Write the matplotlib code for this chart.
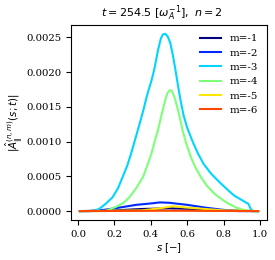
import matplotlib
matplotlib.use("Agg")
import matplotlib.pyplot as plt
from matplotlib.ticker import FormatStrFormatter

plt.rcParams['font.family'] = ['DejaVu Serif']
plt.rcParams['mathtext.fontset'] = 'dejavusans'

labels = ["m=-1", "m=-2", "m=-3", "m=-4", "m=-5", "m=-6"]

s_m1 = [0.01, 0.2, 0.35, 0.5, 0.65, 0.8, 0.99]
v_m1 = [0, 0.00001, 0.00003, 0.00004, 0.00003, 0.00001, 0]

s_m2 = [0.01, 0.06, 0.15, 0.25, 0.32, 0.4, 0.45, 0.5, 0.55, 0.6, 0.7, 0.79, 0.88, 0.99]
v_m2 = [0, 0, 0.00002, 0.00006, 0.00009, 0.00011, 0.000125, 0.00012, 0.000105,
        0.00009, 0.00005, 0.00002, 0, 0]

s_m3 = [0.01, 0.08, 0.115, 0.15, 0.19, 0.22, 0.245, 0.27, 0.292, 0.315, 0.339, 0.36,
        0.376, 0.39, 0.404, 0.42, 0.44, 0.455, 0.466, 0.48, 0.493, 0.507, 0.52, 0.535,
        0.55, 0.563, 0.58, 0.6, 0.63, 0.657, 0.69, 0.731, 0.78, 0.825, 0.86, 0.9,
        0.925, 0.935, 0.95, 0.96, 0.99]
v_m3 = [0, 0, 0.00003, 0.0001, 0.0002, 0.00033, 0.00049, 0.00065, 0.00083, 0.00104,
        0.00126, 0.00146, 0.00163, 0.00176, 0.00188, 0.00205, 0.00232, 0.00248, 0.00254,
        0.00255, 0.00251, 0.00242, 0.00226, 0.00204, 0.0018, 0.0016, 0.00138, 0.0012,
        0.001, 0.00084, 0.00068, 0.00054, 0.00041, 0.0003, 0.00022, 0.00016, 0.00012,
        0.00011, 0.00003, 0.0, 0.0]

s_m4 = [0.01, 0.15, 0.208, 0.25, 0.283, 0.32, 0.357, 0.38, 0.404, 0.42, 0.44, 0.455,
        0.47, 0.482, 0.492, 0.505, 0.516, 0.53, 0.545, 0.56, 0.573, 0.595, 0.62, 0.645,
        0.675, 0.71, 0.75, 0.79, 0.825, 0.87, 0.918, 0.95, 0.99]
v_m4 = [0, 0, 0.00006, 0.00012, 0.0002, 0.00033, 0.00049, 0.00065, 0.00083, 0.00099,
        0.00117, 0.00134, 0.0015, 0.00162, 0.0017, 0.00174, 0.00173, 0.00164, 0.0015,
        0.00134, 0.00118, 0.00097, 0.00078, 0.00063, 0.00049, 0.00036, 0.00025, 0.00017,
        0.00011, 0.00005, 0.00001, 0, 0]

s_m5 = [0.01, 0.35, 0.45, 0.52, 0.6, 0.7, 0.8, 0.99]
v_m5 = [0, 0.00001, 0.00004, 0.00007, 0.00005, 0.00003, 0.00001, 0]

s_m6 = [0.01, 0.5, 0.99]
v_m6 = [0, 0.000005, 0]

series = [(s_m1, v_m1), (s_m2, v_m2), (s_m3, v_m3), (s_m4, v_m4), (s_m5, v_m5), (s_m6, v_m6)]
cmap = plt.get_cmap('jet')

fig = plt.figure(figsize=(2.75, 2.6), dpi=100)
ax = fig.add_axes([0.258, 0.154, 0.713, 0.75])
for i, ((s, v), lab) in enumerate(zip(series, labels)):
    ax.plot(s, v, color=cmap(i / 6), lw=1.5, label=lab)

ax.yaxis.set_major_formatter(FormatStrFormatter('%.4f'))
ax.set_xticks([0.0, 0.2, 0.4, 0.6, 0.8, 1.0])
ax.tick_params(labelsize=7.3)
ax.set_xlabel(r'$s\ [-]$', fontsize=7.3, labelpad=2)
ax.set_ylabel(r'$|\hat{A}_{\|}^{(n,m)}(s;t)|$', fontsize=7.4, labelpad=1)
ax.set_title(r'$t = 254.5\ [\omega_A^{-1}],\ n = 2$', fontsize=8, x=0.465)
ax.legend(loc='upper right', frameon=False, fontsize=7.4, handlelength=2)
fig.savefig('out.png', dpi=100)
